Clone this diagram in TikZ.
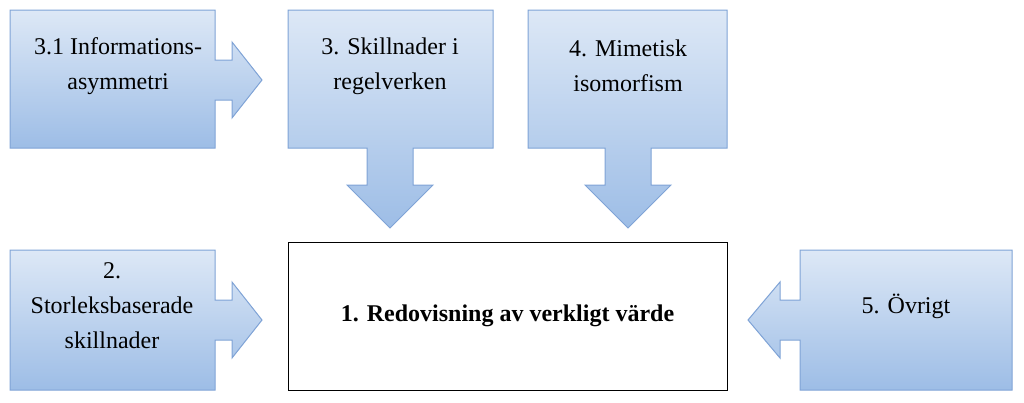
\documentclass[tikz,border=0pt]{standalone}
\usepackage{fontspec}
\setmainfont{Liberation Serif}
\definecolor{topc}{HTML}{DDE8F6}
\definecolor{botc}{HTML}{9DBDE6}
\definecolor{edgec}{HTML}{7FA3D6}
\begin{document}
\begin{tikzpicture}[x=1pt,y=-1pt,
  callout/.style={draw=edgec, line width=1pt, top color=topc, bottom color=botc},
  lbl/.style={align=center, font=\fontsize{24}{35}\selectfont}]
\useasboundingbox (0,0) rectangle (1024,402);
% A right arrow
\path[callout] (10,10) -- (215,10) -- (215,60) -- (232,60) -- (232,42) -- (262,80) -- (232,118) -- (232,100) -- (215,100) -- (215,148) -- (10,148) -- cycle;
\node[lbl] (a) at (118,66) {3.1 Informations-\\asymmetri};
% B down arrow
\path[callout] (288,10) -- (493,10) -- (493,148) -- (413,148) -- (413,185) -- (433,185) -- (390,228) -- (347,185) -- (367,185) -- (367,148) -- (288,148) -- cycle;
\node[lbl] (b) at (390,66) {3. Skillnader i\\regelverken};
% C down arrow
\path[callout] (528,10) -- (727,10) -- (727,148) -- (651,148) -- (651,185) -- (671,185) -- (628,228) -- (585,185) -- (605,185) -- (605,148) -- (528,148) -- cycle;
\node[lbl] (c) at (628,66) {4. Mimetisk\\isomorfism};
% D right arrow
\path[callout] (10,250) -- (215,250) -- (215,300) -- (232,300) -- (232,282) -- (262,320) -- (232,358) -- (232,340) -- (215,340) -- (215,390) -- (10,390) -- cycle;
\node[lbl] (d) at (112,306) {2.\\Storleksbaserade\\skillnader};
% E left arrow
\path[callout] (1012,250) -- (800,250) -- (800,300) -- (780,300) -- (780,282) -- (748,320) -- (780,358) -- (780,340) -- (800,340) -- (800,390) -- (1012,390) -- cycle;
\node[lbl] (e) at (906,306) {5. Övrigt};
% center
\node[draw=black, line width=1pt, fill=white, minimum width=439pt, minimum height=148pt, inner sep=0pt, font=\fontsize{24}{35}\selectfont\bfseries] (m) at (507.5,316) {1. Redovisning av verkligt värde};
\end{tikzpicture}
\end{document}
